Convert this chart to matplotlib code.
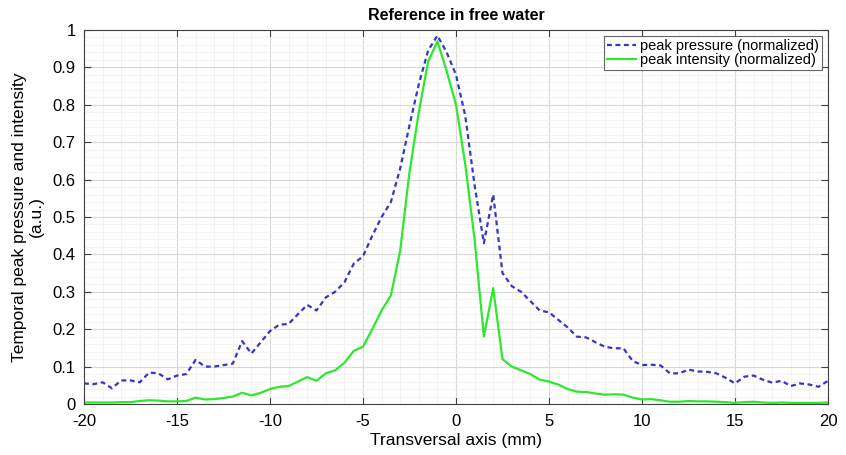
import matplotlib
matplotlib.use("Agg")
import matplotlib.pyplot as plt
import numpy as np
from matplotlib.ticker import MultipleLocator, FuncFormatter

plt.rcParams["font.family"] = ["Liberation Sans", "DejaVu Sans"]
plt.rcParams["axes.unicode_minus"] = False

# transversal positions (mm), 0.5 mm step
x_mm = np.arange(-20, 20.01, 0.5)

pressure = [
    0.055, 0.053, 0.058, 0.042, 0.063, 0.063, 0.058, 0.084, 0.082, 0.066,
    0.076, 0.080, 0.118, 0.100, 0.100, 0.104, 0.108, 0.168, 0.135, 0.165,
    0.195, 0.212, 0.214, 0.240, 0.265, 0.250, 0.285, 0.300, 0.325, 0.375,
    0.395, 0.450, 0.500, 0.540, 0.630, 0.745, 0.855, 0.945, 0.985, 0.940,
    0.880, 0.770, 0.585, 0.430, 0.560, 0.350, 0.315, 0.300, 0.275, 0.250,
    0.245, 0.225, 0.205, 0.180, 0.178, 0.165, 0.153, 0.149, 0.149, 0.115,
    0.104, 0.105, 0.103, 0.082, 0.082, 0.092, 0.087, 0.086, 0.082, 0.070,
    0.055, 0.073, 0.076, 0.065, 0.057, 0.062, 0.048, 0.055, 0.052, 0.046,
    0.062,
]

intensity = [
    0.004, 0.004, 0.004, 0.004, 0.005, 0.005, 0.008, 0.010, 0.009, 0.007,
    0.007, 0.008, 0.017, 0.012, 0.013, 0.016, 0.020, 0.030, 0.023, 0.030,
    0.040, 0.046, 0.048, 0.060, 0.072, 0.062, 0.082, 0.090, 0.110, 0.142,
    0.153, 0.200, 0.250, 0.290, 0.410, 0.620, 0.780, 0.915, 0.970, 0.890,
    0.800, 0.640, 0.440, 0.180, 0.310, 0.120, 0.100, 0.090, 0.080, 0.065,
    0.060, 0.052, 0.040, 0.033, 0.032, 0.028, 0.025, 0.026, 0.025, 0.017,
    0.012, 0.013, 0.010, 0.006, 0.006, 0.008, 0.007, 0.007, 0.006, 0.005,
    0.003, 0.005, 0.006, 0.004, 0.003, 0.004, 0.003, 0.003, 0.003, 0.003,
    0.004,
]

fig = plt.figure(figsize=(8.46, 4.55), dpi=100)
ax = fig.add_axes([0.0993, 0.1121, 0.8794, 0.822])

ax.plot(x_mm, pressure, color="#3535c8", linestyle=(0, (2.2, 1.6)), linewidth=1.6,
        label="peak pressure (normalized)")
ax.plot(x_mm, intensity, color="#2ee82e", linestyle="-", linewidth=1.6,
        label="peak intensity (normalized)")

ax.set_xlim(-20, 20)
ax.set_ylim(0, 1)
ax.xaxis.set_major_locator(MultipleLocator(5))
ax.xaxis.set_minor_locator(MultipleLocator(1))
ax.yaxis.set_major_locator(MultipleLocator(0.1))
ax.yaxis.set_minor_locator(MultipleLocator(0.02))
ax.yaxis.set_major_formatter(FuncFormatter(lambda v, p: f"{v:g}"))
ax.grid(which="major", color="#d8d8d8", linewidth=0.8)
ax.grid(which="minor", color="#f2f2f2", linewidth=0.6)
ax.set_axisbelow(True)
ax.tick_params(which="both", direction="in", top=True, right=True, labelsize=12,
               color="#404040")
ax.tick_params(which="minor", length=0)
ax.tick_params(which="major", length=5)
ax.tick_params(axis="x", pad=7)
ax.tick_params(axis="y", pad=6)
for s in ax.spines.values():
    s.set_color("#404040")
    s.set_linewidth(0.8)

ax.set_title("Reference in free water", fontsize=11.5, fontweight="bold", pad=7)
ax.set_xlabel("Transversal axis (mm)", fontsize=12.5, labelpad=3)
ax.set_ylabel("Temporal peak pressure and intensity\n(a.u.)", fontsize=12.5,
              labelpad=6)

leg = ax.legend(loc="upper right", fontsize=10.5, frameon=True, fancybox=False,
                handlelength=2.0, handletextpad=0.3, borderpad=0.2,
                labelspacing=0.05, borderaxespad=0.4)
leg.get_frame().set_edgecolor("#404040")
leg.get_frame().set_linewidth(0.8)

plt.savefig("out.png", dpi=100)
